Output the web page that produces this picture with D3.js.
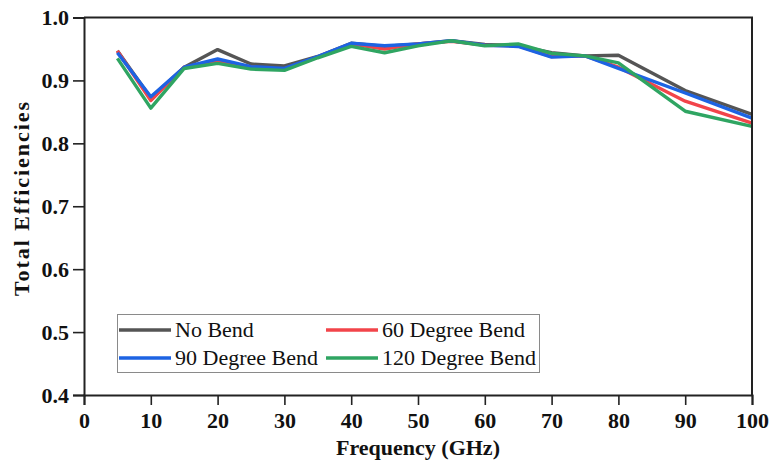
<!DOCTYPE html>
<html>
<head>
<meta charset="utf-8">
<script src="https://cdn.jsdelivr.net/npm/d3@7"></script>
<style>
  html, body { margin: 0; padding: 0; background: #fff; }
  svg { display: block; }
  text { font-family: "Liberation Serif", "Times New Roman", serif; fill: #111; }
</style>
</head>
<body>
<svg id="chart" width="769" height="463"></svg>
<script>
// Frequency sweep points (GHz)
const frequencies = [5, 10, 15, 20, 25, 30, 35, 40, 45, 50, 55, 60, 65, 70, 75, 80, 90, 100];

// Total efficiency per bending case
const noBend     = [0.947, 0.872, 0.921, 0.949, 0.926, 0.923, 0.938, 0.959, 0.954, 0.958, 0.963, 0.957, 0.955, 0.944, 0.939, 0.940, 0.884, 0.846];
const bend60     = [0.947, 0.868, 0.921, 0.930, 0.921, 0.918, 0.937, 0.958, 0.950, 0.958, 0.962, 0.956, 0.955, 0.938, 0.939, 0.921, 0.867, 0.832];
const bend90     = [0.944, 0.874, 0.921, 0.934, 0.922, 0.919, 0.938, 0.959, 0.955, 0.958, 0.963, 0.956, 0.954, 0.937, 0.939, 0.919, 0.880, 0.840];
const bend120    = [0.935, 0.856, 0.919, 0.927, 0.918, 0.916, 0.936, 0.954, 0.944, 0.955, 0.963, 0.955, 0.958, 0.943, 0.939, 0.928, 0.851, 0.827];

const seriesNames  = ["No Bend", "60 Degree Bend", "90 Degree Bend", "120 Degree Bend"];
const seriesColors = ["#555555", "#f2444a", "#1d63e3", "#2fa562"];

const xTicks = [0, 10, 20, 30, 40, 50, 60, 70, 80, 90, 100];
const yTicks = [0.4, 0.5, 0.6, 0.7, 0.8, 0.9, 1.0];

const series = [noBend, bend60, bend90, bend120].map((vals, i) => ({
  name: seriesNames[i],
  color: seriesColors[i],
  points: frequencies.map((f, j) => ({ f, v: vals[j] }))
}));

const svg = d3.select("#chart");
const plotL = 84, plotR = 752, plotT = 17.5, plotB = 395;

const x = d3.scaleLinear().domain([0, 100]).range([plotL, plotR]);
const y = d3.scaleLinear().domain([0.4, 1.0]).range([plotB, plotT]);

// Lines (green drawn last, on top)
const line = d3.line().x(d => x(d.f)).y(d => y(d.v));
svg.append("g")
  .selectAll("path")
  .data(series)
  .join("path")
  .attr("d", d => line(d.points))
  .attr("fill", "none")
  .attr("stroke", d => d.color)
  .attr("stroke-width", 3.4)
  .attr("stroke-linejoin", "round");

// Frame: top and right borders without ticks
svg.append("path")
  .attr("d", `M${plotL},${plotT}H${plotR}V${plotB}`)
  .attr("fill", "none")
  .attr("stroke", "#222")
  .attr("stroke-width", 2);

// Bottom axis: major and minor ticks pointing outward
const xAxis = svg.append("g").attr("transform", `translate(0,${plotB})`);
xAxis.call(d3.axisBottom(x).tickValues(d3.range(5, 100, 10)).tickSize(5).tickFormat(""));
xAxis.call(d3.axisBottom(x).tickValues(xTicks).tickSize(10).tickPadding(7).tickFormat(d3.format("d")));

// Left axis
const yAxis = svg.append("g").attr("transform", `translate(${plotL},0)`);
yAxis.call(d3.axisLeft(y).tickValues(d3.range(0.45, 1.0, 0.1)).tickSize(5).tickFormat(""));
yAxis.call(d3.axisLeft(y).tickValues(yTicks).tickSize(11).tickPadding(4).tickFormat(d3.format(".1f")));

svg.selectAll(".domain").attr("stroke", "#222").attr("stroke-width", 2);
svg.selectAll(".tick line").attr("stroke", "#222").attr("stroke-width", 1.6);
svg.selectAll(".tick text")
  .style("font-family", "'Liberation Serif', 'Times New Roman', serif")
  .style("font-size", "22px")
  .style("font-weight", "bold")
  .attr("fill", "#111");

// Axis titles
svg.append("text")
  .attr("x", (plotL + plotR) / 2)
  .attr("y", 455)
  .attr("text-anchor", "middle")
  .style("font-size", "22px")
  .style("font-weight", "bold")
  .text("Frequency (GHz)");

svg.append("text")
  .attr("transform", `translate(29,199) rotate(-90)`)
  .attr("text-anchor", "middle")
  .attr("textLength", 194)
  .attr("lengthAdjust", "spacing")
  .style("font-size", "22px")
  .style("font-weight", "bold")
  .text("Total Efficiencies");

// Legend
const legend = svg.append("g");
legend.append("rect")
  .attr("x", 117.5).attr("y", 314.5)
  .attr("width", 422).attr("height", 58)
  .attr("fill", "#fff")
  .attr("stroke", "#8a8a8a")
  .attr("stroke-width", 1);

const legendPos = [
  { lx: 118, ly: 330 }, { lx: 325, ly: 330 },
  { lx: 118, ly: 358 }, { lx: 325, ly: 358 }
];
const items = legend.selectAll("g.item")
  .data(series)
  .join("g")
  .attr("class", "item")
  .attr("transform", (d, i) => `translate(${legendPos[i].lx},${legendPos[i].ly})`);
items.append("line")
  .attr("x1", 1).attr("x2", 53)
  .attr("stroke", d => d.color)
  .attr("stroke-width", 3.4);
items.append("text")
  .attr("x", 57)
  .attr("y", 7)
  .style("font-size", "22px")
  .text(d => d.name);
</script>
</body>
</html>
